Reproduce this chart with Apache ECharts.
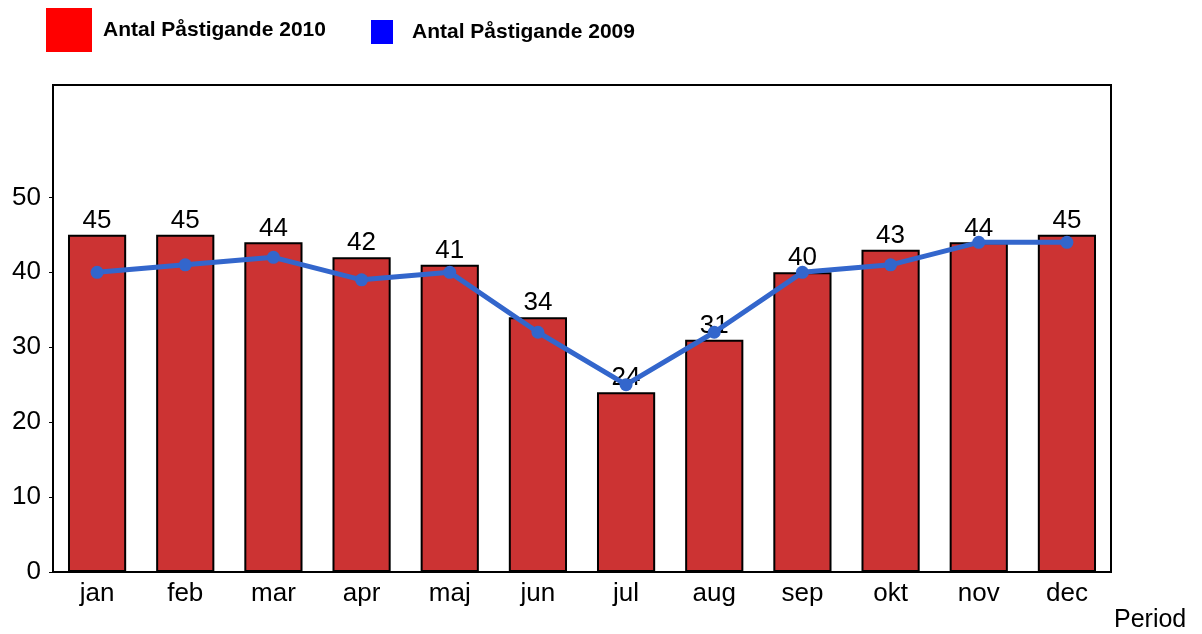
<!DOCTYPE html>
<html>
<head>
<meta charset="utf-8">
<script src="https://cdn.jsdelivr.net/npm/echarts@6/dist/echarts.min.js"></script>
<style>
html,body{margin:0;padding:0;background:#fff;}
#c{width:1202px;height:634px;}
</style>
</head>
<body>
<div id="c"></div>
<script>
const categories = ['jan','feb','mar','apr','maj','jun','jul','aug','sep','okt','nov','dec'];
const values2010 = [45,45,44,42,41,34,24,31,40,43,44,45];
const values2009 = [40,41,42,39,40,32,25,32,40,41,44,44];
const yTickValues = [0,10,20,30,40,50];
const name2010 = 'Antal Påstigande 2010';
const name2009 = 'Antal Påstigande 2009';

const font = '"Liberation Sans", Arial, sans-serif';
const chart = echarts.init(document.getElementById('c'), null, {renderer:'canvas'});
chart.setOption({
  animation:false,
  textStyle:{fontFamily:font},
  legend:[
    {
      data:[{name:name2010, icon:'rect', itemStyle:{color:'#ff0000', borderWidth:0}}],
      left:46, top:8, padding:0, itemWidth:46, itemHeight:44,
      textStyle:{fontFamily:font, fontSize:21, fontWeight:'bold', color:'#000', padding:[2,0,0,6]},
      selectedMode:false
    },
    {
      data:[{name:name2009, icon:'rect', itemStyle:{color:'#0000ff', borderWidth:0}}],
      left:371, top:20, padding:0, itemWidth:22, itemHeight:24,
      textStyle:{fontFamily:font, fontSize:21, fontWeight:'bold', color:'#000', padding:[0,0,0,14]},
      selectedMode:false
    }
  ],
  grid:{left:53, right:91, top:85, bottom:62, show:true, borderColor:'#000', borderWidth:2, backgroundColor:'transparent'},
  xAxis:{
    type:'category', data:categories,
    name:'Period', nameLocation:'end', nameGap:3,
    nameTextStyle:{fontFamily:font, fontSize:25, color:'#000', verticalAlign:'top', align:'left', padding:[36,0,0,0]},
    axisLine:{lineStyle:{color:'#000', width:2}},
    axisTick:{show:false},
    axisLabel:{fontFamily:font, fontSize:26, color:'#000', margin:9},
    splitLine:{show:false}
  },
  yAxis:{
    type:'value', min:0, max:65, interval:10,
    axisLine:{show:true, lineStyle:{color:'#000', width:2}},
    axisTick:{show:true, length:4, lineStyle:{color:'#000'}, customValues:yTickValues},
    axisLabel:{fontFamily:font, fontSize:26, color:'#000', margin:12, customValues:yTickValues},
    splitLine:{show:false}
  },
  series:[
    {
      name:name2010, type:'bar', data:values2010, barWidth:'66%',
      itemStyle:{color:'#cc3333', borderColor:'#000', borderWidth:2},
      label:{show:true, position:'top', distance:1, fontFamily:font, fontSize:26, color:'#000'},
      z:2
    },
    {
      name:name2009, type:'line', data:values2009,
      symbol:'circle', symbolSize:13,
      lineStyle:{color:'#3366cc', width:5},
      itemStyle:{color:'#3366cc'},
      z:5
    }
  ]
});
</script>
</body>
</html>
